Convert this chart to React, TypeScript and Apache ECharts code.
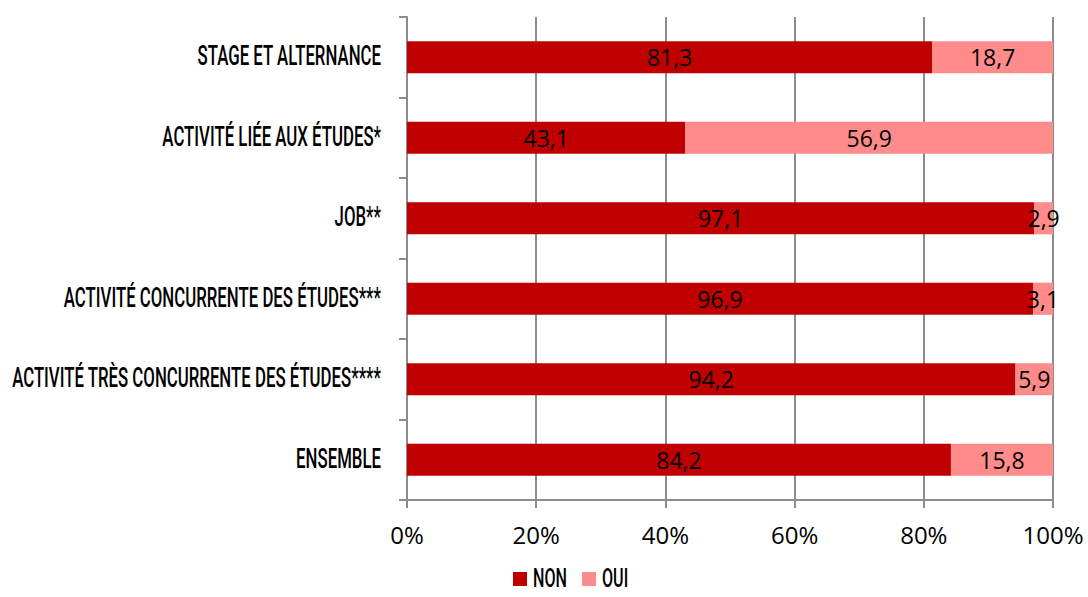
import React, { useEffect, useRef } from "react";
import * as echarts from "echarts";

const categories = [
  "STAGE ET ALTERNANCE",
  "ACTIVITÉ LIÉE AUX ÉTUDES*",
  "JOB**",
  "ACTIVITÉ CONCURRENTE DES ÉTUDES***",
  "ACTIVITÉ TRÈS CONCURRENTE DES ÉTUDES****",
  "ENSEMBLE",
];
const nonValues = [81.3, 43.1, 97.1, 96.9, 94.2, 84.2];
const ouiValues = [18.7, 56.9, 2.9, 3.1, 5.9, 15.8];
const seriesNames = ["NON", "OUI"];
const colors = ["#C00000", "#FF8B8B"];

const condensed = "Roboto, 'Noto Sans', sans-serif";
const sans = "'Open Sans', 'Noto Sans', sans-serif";
const CONDENSE = 0.6;

export default function App() {
  const ref = useRef<HTMLDivElement>(null);
  useEffect(() => {
    if (!ref.current) return;
    const chart = echarts.init(ref.current, null, { renderer: "svg" });
    const fmt = (p: any) => String(p.value).replace(".", ",");
    const label = {
      show: true,
      position: "inside",
      color: "#000",
      fontFamily: sans,
      fontSize: 23,
      formatter: fmt,
    };
    const gray = "#8c8c8c";
    chart.setOption({
      animation: false,
      grid: { left: 407, right: 35, top: 17, bottom: 97, containLabel: false, outerBoundsMode: "none" },
      xAxis: {
        type: "value",
        min: 0,
        max: 100,
        interval: 20,
        axisLine: { show: true, lineStyle: { color: gray, width: 2 } },
        axisTick: { show: true, length: 8, lineStyle: { color: gray, width: 2 } },
        splitLine: { show: true, lineStyle: { color: gray, width: 2 } },
        axisLabel: {
          formatter: "{value}%",
          fontFamily: sans,
          fontSize: 24,
          color: "#000",
          margin: 22,
        },
      },
      yAxis: {
        type: "category",
        data: categories,
        inverse: true,
        axisLine: { show: true, lineStyle: { color: gray, width: 2 } },
        axisTick: { show: true, length: 8, lineStyle: { color: gray, width: 2 } },
        axisLabel: { show: false },
      },
      series: [
        {
          name: seriesNames[0],
          type: "bar",
          stack: "total",
          data: nonValues,
          barCategoryGap: "60%",
          itemStyle: { color: colors[0] },
          label,
        },
        {
          name: seriesNames[1],
          type: "bar",
          stack: "total",
          data: ouiValues,
          barCategoryGap: "60%",
          itemStyle: { color: colors[1] },
          label,
        },
      ],
    });

    // Condensed category labels, positioned through the axis scales
    const x0 = chart.convertToPixel({ xAxisIndex: 0 }, 0) as number;
    const catLabels = categories.map((c) => {
      const y = chart.convertToPixel({ yAxisIndex: 0 }, c) as number;
      return {
        type: "text",
        x: x0 - 26,
        y: y - 1,
        scaleX: CONDENSE,
        silent: true,
        style: {
          text: c,
          fill: "#000",
          font: `500 28px ${condensed}`,
          textAlign: "right",
          textVerticalAlign: "middle",
        },
      };
    });

    // Custom legend with condensed text
    const legendY = 577;
    const legendItems: any[] = [];
    const legendLayout = [
      { iconX: 513, textX: 533 },
      { iconX: 582, textX: 602 },
    ];
    seriesNames.forEach((n, i) => {
      legendItems.push({
        type: "rect",
        shape: { x: legendLayout[i].iconX, y: legendY - 5, width: 14, height: 14 },
        style: { fill: colors[i] },
        silent: true,
      });
      legendItems.push({
        type: "text",
        x: legendLayout[i].textX,
        y: legendY + 1,
        scaleX: 0.62,
        silent: true,
        style: {
          text: n,
          fill: "#000",
          font: `500 26px ${condensed}`,
          textAlign: "left",
          textVerticalAlign: "middle",
        },
      });
    });

    chart.setOption({ graphic: [...catLabels, ...legendItems] });
    return () => chart.dispose();
  }, []);
  return <div ref={ref} style={{ width: 1088, height: 597, position: "absolute", left: 0, top: 0, background: "#fff" }} />;
}
